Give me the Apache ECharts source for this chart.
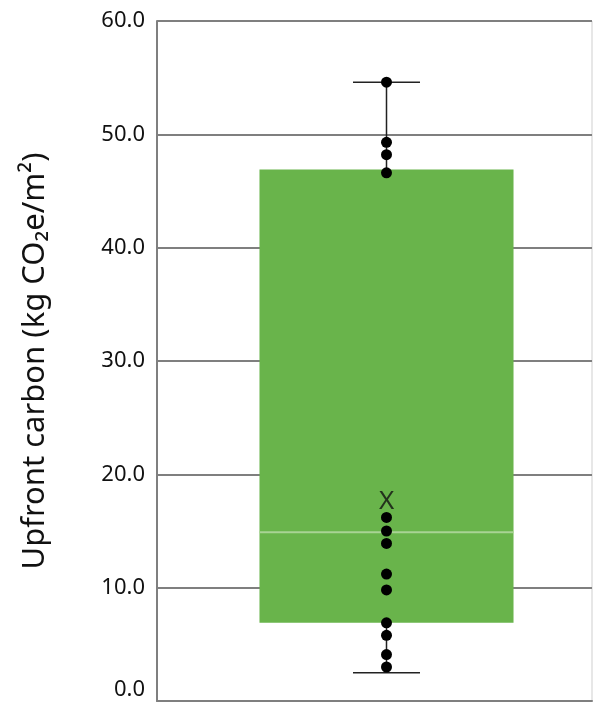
<!DOCTYPE html>
<html><head><meta charset="utf-8">
<script src="https://cdn.jsdelivr.net/npm/echarts@6/dist/echarts.min.js"></script>
<style>html,body{margin:0;padding:0;background:#fff}#c{width:593px;height:702px}</style>
</head><body><div id="c"></div>
<script>
const categories = ['Upfront carbon'];
// [min, Q1, median, Q3, max]
const boxStats = [2.5, 6.9, 14.9, 46.9, 54.6];
const meanValue = [17.6];
const points = [54.6, 49.3, 48.2, 46.6, 16.2, 15.0, 13.9, 11.2, 9.8, 6.9, 5.8, 4.1, 3.0];
const yTicks = [0, 10, 20, 30, 40, 50, 60];

const SHIFT = 12;
const chart = echarts.init(document.getElementById('c'));
chart.setOption({
  animation: false,
  grid: {left: 157, right: 1, top: 21, bottom: 1, outerBoundsMode: 'none', containLabel: false,
    show: true, borderColor: '#cfcfcf', borderWidth: 1},
  xAxis: {type: 'category', data: categories, axisLabel: {show: false}, axisTick: {show: false},
    axisLine: {show: true, lineStyle: {color: '#7f7f7f', width: 2}}},
  yAxis: {type: 'value', min: yTicks[0], max: yTicks[yTicks.length-1], interval: 10,
    name: 'Upfront carbon (kg CO₂e/m²)', nameLocation: 'middle', nameGap: 106, nameRotate: 90,
    nameTextStyle: {fontFamily: 'Noto Sans', fontSize: 31, color: '#111'},
    axisLine: {show: true, lineStyle: {color: '#7f7f7f', width: 2}},
    axisTick: {show: false},
    axisLabel: {fontFamily: 'Noto Sans', fontSize: 22, color: '#111', margin: 12,
      verticalAlignMinLabel: 'bottom', formatter: v => v.toFixed(1)},
    splitLine: {lineStyle: {color: '#7f7f7f', width: 2}}},
  series: [
    {type: 'custom', data: [[0].concat(boxStats)], z: 3,
      renderItem: function (params, api) {
        const cat = api.value(0);
        const pMin = api.coord([cat, api.value(1)]);
        const pQ1 = api.coord([cat, api.value(2)]);
        const pMed = api.coord([cat, api.value(3)]);
        const pQ3 = api.coord([cat, api.value(4)]);
        const pMax = api.coord([cat, api.value(5)]);
        const band = api.size([1, 0])[0];
        const cx = pMin[0] + SHIFT;
        const bw = band * 0.584, cw = band * 0.154;
        return {type: 'group', children: [
          {type: 'line', shape: {x1: cx, y1: pMax[1], x2: cx, y2: pMin[1]}, style: {stroke: '#222', lineWidth: 1.5}},
          {type: 'line', shape: {x1: cx - cw/2, y1: pMax[1], x2: cx + cw/2, y2: pMax[1]}, style: {stroke: '#222', lineWidth: 1.5}},
          {type: 'line', shape: {x1: cx - cw/2, y1: pMin[1], x2: cx + cw/2, y2: pMin[1]}, style: {stroke: '#222', lineWidth: 1.5}},
          {type: 'rect', shape: {x: cx - bw/2, y: pQ3[1], width: bw, height: pQ1[1] - pQ3[1]}, style: {fill: '#69b44b'}},
          {type: 'line', shape: {x1: cx - bw/2, y1: pMed[1], x2: cx + bw/2, y2: pMed[1]}, style: {stroke: '#a9d394', lineWidth: 2}}
        ]};
      }},
    {type: 'scatter', data: points.map(v => [0, v]), symbol: 'circle', symbolSize: 11, symbolOffset: [SHIFT, 0],
      itemStyle: {color: '#000', opacity: 1}, z: 5},
    {type: 'scatter', data: meanValue.map(v => [0, v]), symbolSize: 1, symbolOffset: [SHIFT, 0],
      itemStyle: {color: 'rgba(0,0,0,0)'}, z: 6,
      label: {show: true, position: 'inside', formatter: 'X', fontFamily: 'Noto Sans', fontSize: 26, color: '#111'}}
  ]
});
</script></body></html>
